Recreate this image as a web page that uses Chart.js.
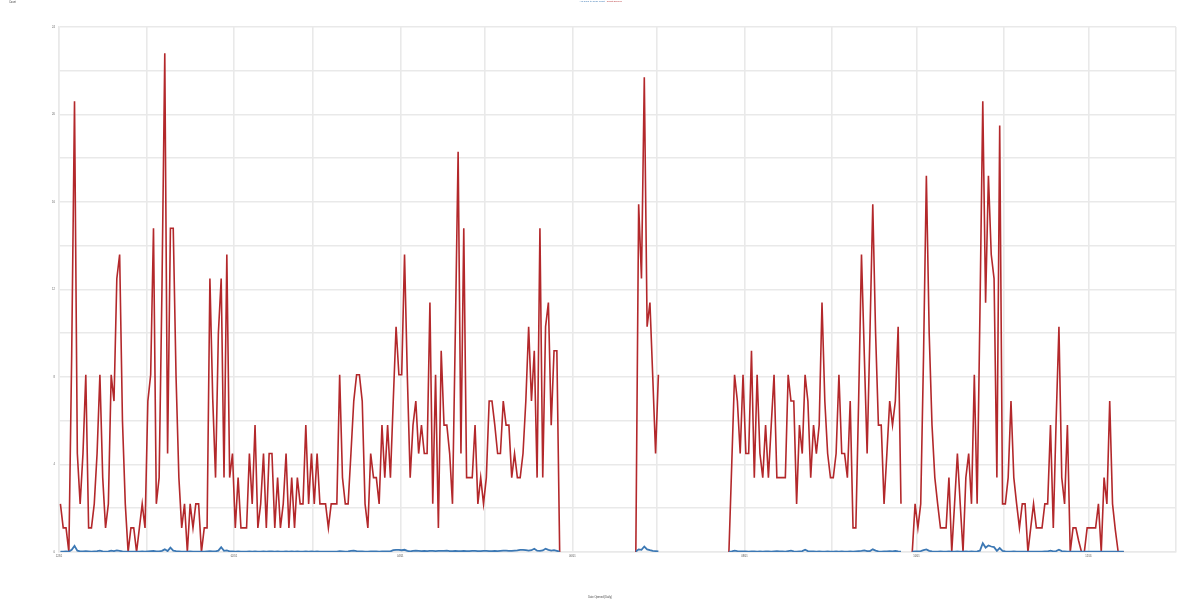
<!DOCTYPE html>
<html>
<head>
<meta charset="utf-8">
<script src="https://cdn.jsdelivr.net/npm/chart.js@4.4.0/dist/chart.umd.min.js"></script>
<style>html,body{margin:0;padding:0;background:#fff}canvas{display:block}</style>
</head>
<body>
<canvas id="c" width="1200" height="600"></canvas>
<script>
// ---- labels ----
const seriesNames = ['Avg Days to Close Ticket', 'Count Opened'];
const yAxisName = 'Count';
const xAxisName = 'Date Opened (Daily)';

// ---- x axis: day index (0 = first day), month boundaries ----
const monthStartDays = [0, 31, 62, 90, 121, 151, 182, 212, 243, 274, 304, 335, 365, 396];
const monthTickLabels = ['12/01', '', '02/01', '', '04/01', '', '06/01', '', '08/01', '', '10/01', '', '12/01', ''];

// ---- y axis ----
const yTickValues = [0, 2, 4, 6, 8, 10, 12, 14, 16, 18, 20, 22, 24];
const yTickLabels = ['0', '', '4', '', '8', '', '12', '', '16', '', '20', '', '24'];

// ---- data segments (daily), start day of each segment ----
const segmentStartDays = [0, 204, 237, 302];

const openedA = [
  2.2, 1.1, 1.1, 0, 9, 20.6, 4.5, 2.2, 4.5, 8.1,
  1.1, 1.1, 2.2, 4.5, 8.1, 3.4, 1.1, 2.2, 8.1, 6.9,
  12.5, 13.6, 6, 2.2, 0, 1.1, 1.1, 0, 1.1, 2.2,
  1.1, 6.9, 8.1, 14.8, 2.2, 3.4, 12, 22.8, 4.5, 14.8,
  14.8, 8, 3.4, 1.1, 2.2, 0, 2.2, 1.1, 2.2, 2.2,
  0, 1.1, 1.1, 12.5, 7, 3.4, 10, 12.5, 3.4, 13.6,
  3.4, 4.5, 1.1, 3.4, 1.1, 1.1, 1.1, 4.5, 2.2, 5.8,
  1.1, 2.2, 4.5, 1.1, 4.5, 4.5, 1.1, 3.4, 1.1, 2.2,
  4.5, 1.1, 3.4, 1.1, 3.4, 2.2, 2.2, 5.8, 2.2, 4.5,
  2.2, 4.5, 2.2, 2.2, 2.2, 1.1, 2.2, 2.2, 2.2, 8.1,
  3.4, 2.2, 2.2, 4.5, 6.9, 8.1, 8.1, 6.9, 2.2, 1.1,
  4.5, 3.4, 3.4, 2.2, 5.8, 3.4, 5.8, 3.4, 6.9, 10.3,
  8.1, 8.1, 13.6, 8,
  3.4, 5.8, 6.9, 4.5, 5.8, 4.5, 4.5, 11.4, 2.2, 8.1,
  1.1, 9.2, 5.8, 5.8, 4.5, 2.2, 10, 18.3, 4.5, 14.8,
  3.4, 3.4, 3.4, 5.8, 2.2, 3.4, 2.2, 3.4, 6.9, 6.9,
  5.8, 4.5, 4.5, 6.9, 5.8, 5.8, 3.4, 4.5, 3.4, 3.4,
  4.5, 6.9, 10.3, 6.9, 9.2, 3.4, 14.8, 3.4, 10.3, 11.4,
  5.8, 9.2, 9.2, 0
];
const openedB = [0, 15.9, 12.5, 21.7, 10.3, 11.4, 8, 4.5, 8.1];
const openedC = [
  0, 4, 8.1, 6.9, 4.5, 8.1, 4.5, 4.5, 9.2, 3.4, 8.1, 4.5, 3.4,
  5.8, 3.4, 5.8, 8.1, 3.4, 3.4, 3.4, 3.4, 8.1, 6.9,
  6.9, 2.2, 5.8, 4.5, 8.1, 6.9, 3.4, 5.8, 4.5, 5.8,
  11.4, 6.9, 4.5, 3.4, 3.4, 4.5, 8.1, 4.5, 4.5, 3.4,
  6.9, 1.1, 1.1, 7, 13.6, 9, 4.5, 10, 15.9, 10,
  5.8, 5.8, 2.2, 4.5, 6.9, 5.8, 6.9, 10.3, 2.2
];
const openedD = [
  0, 2.2, 1.1, 2.2, 9, 17.2, 10, 5.8, 3.4, 2.2,
  1.1, 1.1, 1.1, 3.4, 0, 2.2, 4.5, 2.2, 0, 3.4,
  4.5, 2.2, 8.1, 2.2, 11, 20.6, 11.4, 17.2, 13.6, 12.5,
  3.4, 19.5, 2.2, 2.2, 3.4, 6.9, 3.4, 2.2, 1.1, 2.2,
  2.2, 0, 1.1, 2.2, 1.1, 1.1, 1.1, 2.2, 2.2, 5.8,
  1.1, 6, 10.3, 3.4, 2.2, 5.8, 0, 1.1, 1.1, 0.5,
  0, 0, 1.1, 1.1, 1.1, 1.1, 2.2, 0, 3.4, 2.2,
  6.9, 2.2, 1, 0, 0, 0
];

const avgA = [
  0.02, 0.02, 0.03, 0.02, 0.1, 0.28, 0.06, 0.03, 0.03, 0.04,
  0.03, 0.02, 0.03, 0.04, 0.06, 0.03, 0.02, 0.03, 0.06, 0.04,
  0.07, 0.05, 0.03, 0.02, 0.02, 0.02, 0.02, 0.02, 0.02, 0.03,
  0.02, 0.03, 0.04, 0.05, 0.03, 0.03, 0.05, 0.12, 0.04, 0.2,
  0.06, 0.04, 0.03, 0.02, 0.02, 0.02, 0.03, 0.02, 0.02, 0.02,
  0.02, 0.02, 0.03, 0.04, 0.03, 0.03, 0.06, 0.22, 0.05, 0.07,
  0.03, 0.03, 0.02, 0.03, 0.02, 0.02, 0.02, 0.03, 0.02, 0.03,
  0.02, 0.02, 0.03, 0.02, 0.03, 0.03, 0.02, 0.03, 0.02, 0.02,
  0.03, 0.02, 0.03, 0.02, 0.03, 0.02, 0.02, 0.03, 0.02, 0.03,
  0.02, 0.03, 0.02, 0.02, 0.02, 0.02, 0.02, 0.02, 0.02, 0.04,
  0.03, 0.02, 0.03, 0.05, 0.06, 0.04, 0.03, 0.03, 0.02, 0.02,
  0.03, 0.03, 0.03, 0.02, 0.03, 0.03, 0.03, 0.03, 0.08, 0.1,
  0.1, 0.08, 0.1, 0.05, 0.03, 0.05, 0.06, 0.05, 0.04, 0.05,
  0.04, 0.05, 0.05, 0.04, 0.05, 0.05, 0.05, 0.06, 0.04, 0.04,
  0.05, 0.04, 0.04, 0.05, 0.04, 0.04, 0.05, 0.05, 0.04, 0.04,
  0.05, 0.05, 0.04, 0.04, 0.05, 0.04, 0.05, 0.06, 0.06, 0.05,
  0.05, 0.06, 0.07, 0.1, 0.1, 0.08, 0.06, 0.08, 0.15, 0.06,
  0.05, 0.07, 0.15, 0.1, 0.06, 0.08, 0.05, 0.02
];
const avgB = [0.02, 0.12, 0.1, 0.25, 0.12, 0.08, 0.05, 0.04, 0.03];
const avgC = [
  0.02, 0.03, 0.06, 0.04, 0.03, 0.03, 0.03, 0.02, 0.03, 0.03,
  0.02, 0.03, 0.02, 0.03, 0.03, 0.02, 0.03, 0.04, 0.03, 0.03,
  0.02, 0.04, 0.06, 0.03, 0.02, 0.03, 0.04, 0.1, 0.04, 0.03,
  0.03, 0.02, 0.03, 0.02, 0.02, 0.03, 0.02, 0.02, 0.03, 0.02,
  0.03, 0.02, 0.02, 0.03, 0.02, 0.03, 0.04, 0.05, 0.07, 0.04,
  0.04, 0.12, 0.06, 0.03, 0.02, 0.03, 0.03, 0.04, 0.03, 0.05,
  0.03, 0.02
];
const avgD = [
  0.02, 0.03, 0.03, 0.04, 0.08, 0.12, 0.05, 0.03, 0.02, 0.02,
  0.03, 0.02, 0.02, 0.03, 0.02, 0.02, 0.03, 0.02, 0.02, 0.03,
  0.02, 0.03, 0.02, 0.03, 0.06, 0.4, 0.2, 0.3, 0.25, 0.22,
  0.05, 0.18, 0.05, 0.03, 0.02, 0.02, 0.03, 0.02, 0.02, 0.02,
  0.02, 0.02, 0.02, 0.02, 0.02, 0.02, 0.02, 0.03, 0.03, 0.06,
  0.03, 0.04, 0.1, 0.04, 0.03, 0.02, 0.02, 0.02, 0.02, 0.02,
  0.02, 0.02, 0.02, 0.02, 0.02, 0.02, 0.02, 0.02, 0.02, 0.02,
  0.02, 0.02, 0.02, 0.02, 0.02, 0.02
];

// ---- build point lists (gaps between segments are null) ----
function buildPoints(segments) {
  const pts = [];
  segments.forEach((seg, s) => {
    const start = segmentStartDays[s];
    if (s > 0) pts.push({ x: start - 1, y: null });
    seg.forEach((v, i) => pts.push({ x: start + i, y: v }));
  });
  return pts;
}

const BLUE = '#3c78b4';
const RED = '#b3282b';
const GRID = '#e9e9e9';
const FONT = "'Liberation Sans', Arial, sans-serif";

const legendSpacer = {
  id: 'legendSpacer',
  beforeInit(chart) {
    const fit = chart.legend.fit;
    chart.legend.fit = function () { fit.call(this); this.height = 27; };
  }
};
const cornerLabel = {
  id: 'cornerLabel',
  afterDraw(chart) {
    const ctx = chart.ctx;
    ctx.save();
    ctx.font = '2.6px ' + FONT;
    ctx.fillStyle = '#444';
    ctx.textBaseline = 'middle';
    ctx.textAlign = 'left';
    ctx.fillText(yAxisName, 9, 2.2);
    ctx.restore();
  }
};

new Chart(document.getElementById('c'), {
  type: 'line',
  data: {
    datasets: [
      { label: seriesNames[0], data: buildPoints([avgA, avgB, avgC, avgD]),
        borderColor: BLUE, backgroundColor: BLUE, borderWidth: 1.8, pointRadius: 0, tension: 0, spanGaps: false },
      { label: seriesNames[1], data: buildPoints([openedA, openedB, openedC, openedD]),
        borderColor: RED, backgroundColor: RED, borderWidth: 1.6, pointRadius: 0, tension: 0, spanGaps: false }
    ]
  },
  options: {
    responsive: false,
    animation: false,
    devicePixelRatio: 1,
    layout: { padding: 0 },
    plugins: {
      legend: {
        position: 'top',
        align: 'center',
        labels: {
          boxWidth: 0, boxHeight: 0, padding: 0.6,
          font: { size: 2.3, family: FONT },
          generateLabels(chart) {
            return chart.data.datasets.map((ds, i) => ({
              text: ds.label, fillStyle: 'rgba(0,0,0,0)', strokeStyle: 'rgba(0,0,0,0)',
              lineWidth: 0, fontColor: ds.borderColor, datasetIndex: i, hidden: false
            }));
          }
        }
      },
      title: {
        display: true, position: 'bottom', text: xAxisName,
        font: { size: 2.6, family: FONT, weight: 'normal' }, color: '#444',
        padding: { top: 37.4, bottom: 1.5 }
      },
      tooltip: { enabled: false }
    },
    scales: {
      x: {
        type: 'linear',
        min: monthStartDays[0] - 0.5,
        max: monthStartDays[monthStartDays.length - 1] - 0.5,
        afterBuildTicks(scale) { scale.ticks = monthStartDays.map(d => ({ value: d - 0.5 })); },
        afterFit(scale) { scale.height = 6; },
        grid: { color: GRID, lineWidth: 1.6, drawTicks: false },
        border: { color: GRID, width: 1.6 },
        ticks: {
          autoSkip: false, maxRotation: 0, padding: 2.5,
          font: { size: 2.6, family: FONT }, color: '#555',
          callback(value, index) { return monthTickLabels[index]; }
        }
      },
      y: {
        min: 0, max: 24,
        afterBuildTicks(scale) { scale.ticks = yTickValues.map(v => ({ value: v })); },
        afterFit(scale) { scale.width = 59; },
        grid: { color: GRID, lineWidth: 1.6, drawTicks: false },
        border: { color: GRID, width: 1.6 },
        ticks: {
          padding: 4, font: { size: 2.6, family: FONT }, color: '#555',
          callback(value, index) { return yTickLabels[index]; }
        }
      },
      yRight: {
        position: 'right', display: true,
        afterFit(scale) { scale.width = 24; },
        grid: { display: false, drawTicks: false },
        border: { display: false },
        ticks: { display: false }
      }
    }
  },
  plugins: [legendSpacer, cornerLabel]
});
</script>
</body>
</html>
